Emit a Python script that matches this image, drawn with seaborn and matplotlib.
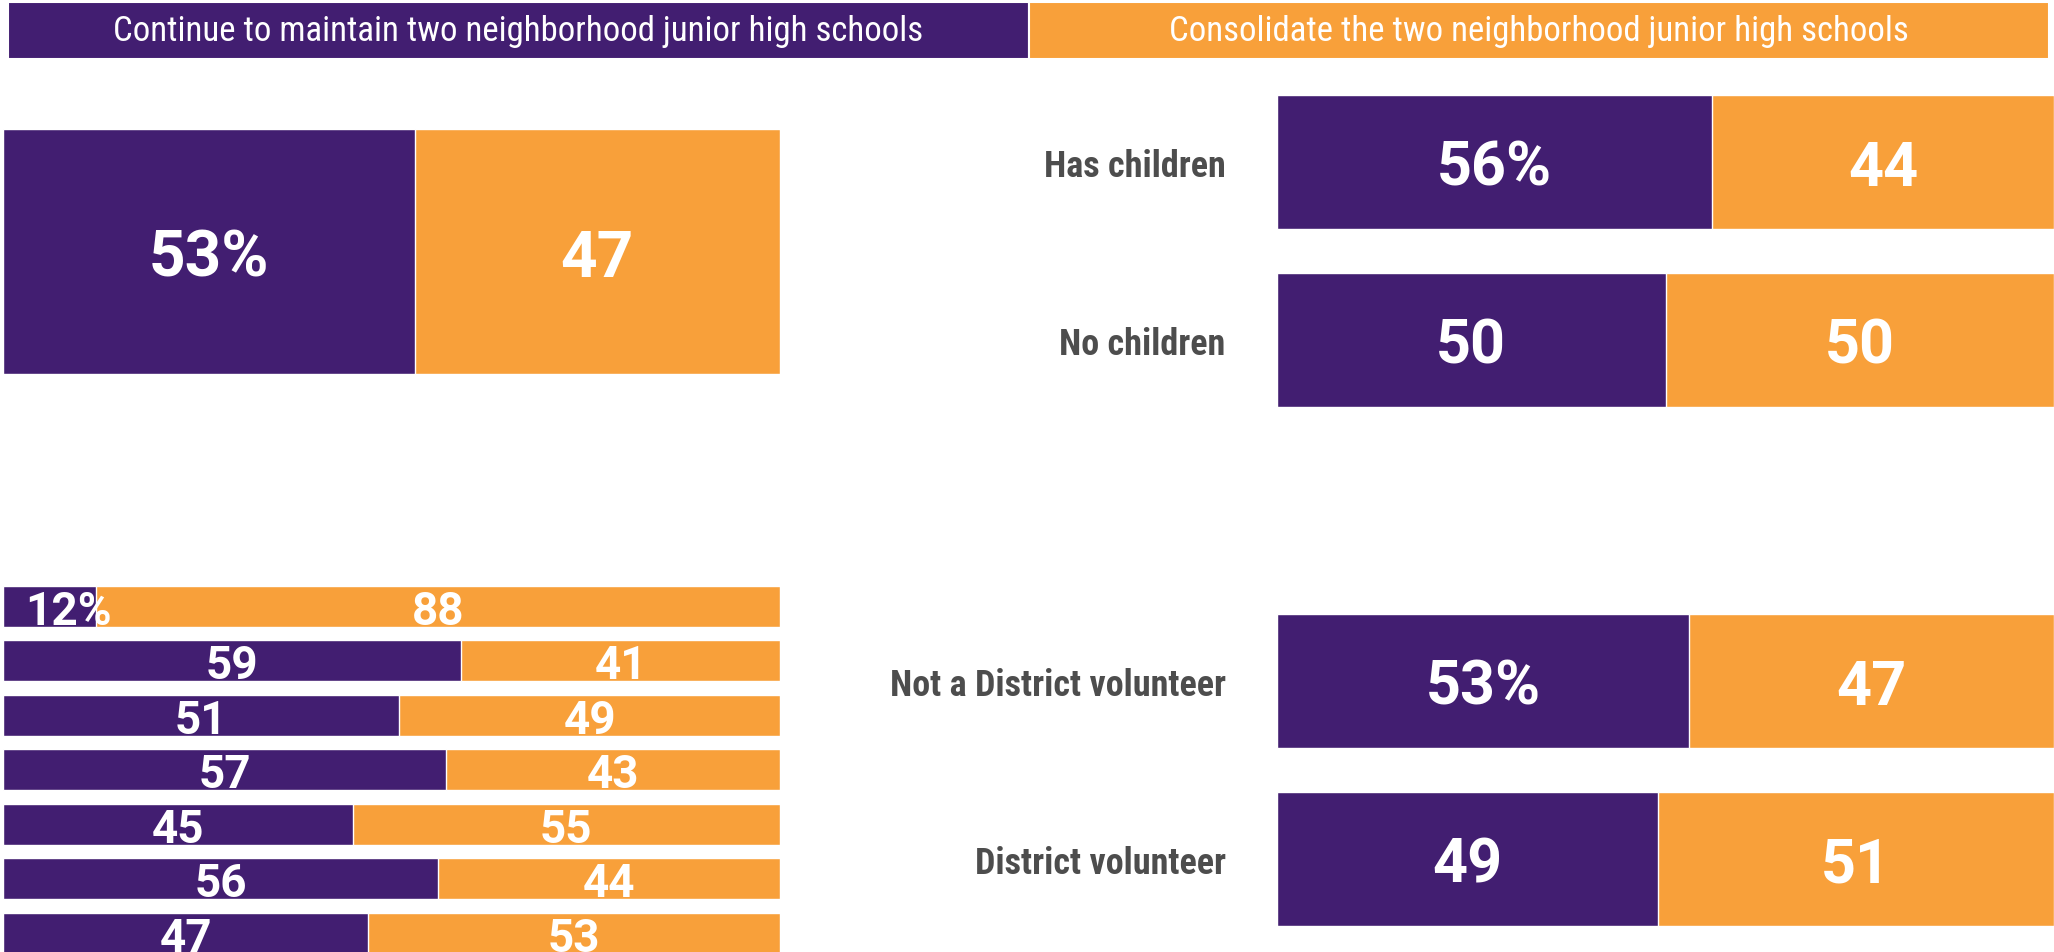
import matplotlib
matplotlib.use("Agg")
import matplotlib.pyplot as plt
from matplotlib import font_manager
import seaborn as sns
import pandas as pd

# colours and labels
purple = "#421e71"
orange = "#f8a03a"
legend_labels = ["Continue to maintain two neighborhood junior high schools",
                 "Consolidate the two neighborhood junior high schools"]

# overall result
overall_maintain = [53]
overall_consolidate = [47]

# bottom-left breakdown (row labels are cut off in the source)
rows_maintain = [12, 59, 51, 57, 45, 56, 47]
rows_consolidate = [88, 41, 49, 43, 55, 44, 53]

# children
kids_cats = ["Has children", "No children"]
kids_maintain = [56, 50]
kids_consolidate = [44, 50]

# volunteer
vol_cats = ["Not a District volunteer", "District volunteer"]
vol_maintain = [53, 49]
vol_consolidate = [47, 51]

sns.set_theme(style="white")
names = {f.name for f in font_manager.fontManager.ttflist}
fam = "Roboto Condensed" if "Roboto Condensed" in names else "DejaVu Sans"
num_fam = ["Roboto", "DejaVu Sans"]
plt.rcParams["font.family"] = [fam, "DejaVu Sans"]

W, H = 2054, 953
fig = plt.figure(figsize=(W / 100, H / 100), dpi=100)


def add_ax(x0, y0, x1, y1):
    return fig.add_axes([x0 / W, 1 - y1 / H, (x1 - x0) / W, (y1 - y0) / H])


def stacked(ax, cats, maintain, consolidate, fs, top, span, label_pad=None):
    df = pd.DataFrame({"cat": cats, "m": maintain, "c": consolidate})
    df["total"] = df["m"] + df["c"]
    sns.barplot(data=df, x="total", y="cat", color=orange, saturation=1,
                width=0.75, ax=ax, orient="h")
    sns.barplot(data=df, x="m", y="cat", color=purple, saturation=1,
                width=0.75, ax=ax, orient="h")
    for i, (m, c) in enumerate(zip(maintain, consolidate)):
        lab = f"{m}%" if i == 0 else f"{m}"
        kw = dict(va="center_baseline", color="white", fontsize=fs,
                  fontweight="bold", family=num_fam)
        if m < 20:
            ax.text(2.8, i, lab, ha="left", **kw)
        else:
            ax.text(m / 2, i, lab, ha="center", **kw)
        ax.text(m + c / 2, i, f"{c}", ha="center", **kw)
    ax.set_xlim(0, 100)
    ax.set_ylim(top + span, top)
    ax.set_xlabel("")
    ax.set_ylabel("")
    ax.set_xticks([])
    sns.despine(ax=ax, left=True, bottom=True)
    if label_pad is None:
        ax.set_yticks([])
    else:
        ax.tick_params(axis="y", length=0, pad=label_pad)
        for t in ax.get_yticklabels():
            t.set_fontsize(26)
            t.set_fontweight("bold")
            t.set_color("#4d4d4d")


# header legend boxes
hax = add_ax(8, 3, 2049, 60)
hax.barh([0, 0], [1, 1], left=[0, 1], height=1, color=[purple, orange],
         edgecolor="white", linewidth=1.5)
for i, lab in enumerate(legend_labels):
    hax.text(i + 0.5, 0, lab, ha="center", va="center", color="white", fontsize=25)
hax.set_xlim(0, 2)
hax.set_ylim(-0.5, 0.5)
hax.axis("off")

# overall bar
ax1 = add_ax(3, 130, 780, 375)
stacked(ax1, ["All"], overall_maintain, overall_consolidate, 46, -0.375, 0.75)

# breakdown bars
ax2 = add_ax(3, 587, 780, 953)
stacked(ax2, [f"r{i}" for i in range(len(rows_maintain))], rows_maintain,
        rows_consolidate, 33, -0.372, 366 / 54.5)

# children / volunteer
ax3 = add_ax(1277, 96, 2054, 408)
stacked(ax3, kids_cats, kids_maintain, kids_consolidate, 44, -0.375, 312 / 178,
        label_pad=37)
ax4 = add_ax(1277, 615, 2054, 927)
stacked(ax4, vol_cats, vol_maintain, vol_consolidate, 44, -0.375, 312 / 178,
        label_pad=37)

fig.savefig("out.png", dpi=100, facecolor="white")
